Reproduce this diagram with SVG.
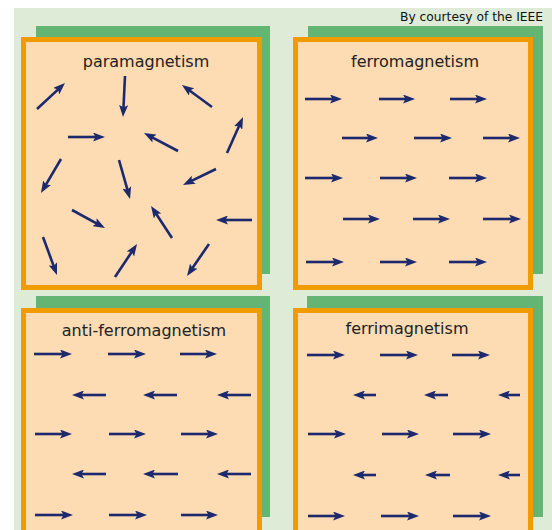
<svg xmlns="http://www.w3.org/2000/svg" width="552" height="530" viewBox="0 0 552 530">
<style>
.bg{fill:#ddebd7}
.shadow{fill:#64b573}
.frame{fill:#fddbb3;stroke:#f09c00;stroke-width:5}
.title{font-family:"DejaVu Sans",sans-serif;font-size:16px;fill:#222;text-anchor:middle}
.credit{font-family:"DejaVu Sans",sans-serif;font-size:13px;fill:#111}
.arr{stroke:#1c2a6d;stroke-width:2.6;fill:none;marker-end:url(#head)}
</style>
<defs>
<marker id="head" markerUnits="userSpaceOnUse" viewBox="0 0 12 9" markerWidth="12" markerHeight="9" refX="6" refY="4.5" orient="auto">
<path d="M0,0 L12,4.5 L0,9 L2.5,4.5 z" fill="#1c2a6d"/>
</marker>
</defs>
<rect width="552" height="530" fill="#ffffff"/>
<rect class="bg" x="14" y="8" width="538" height="522"/>
<text class="credit" x="400" y="21" textLength="143" lengthAdjust="spacingAndGlyphs">By courtesy of the IEEE</text>

<g id="paramagnetism">
<rect class="shadow" x="36" y="26" width="234" height="248"/>
<rect class="frame" x="23.5" y="39.5" width="236" height="248"/>
<text class="title" x="146" y="67">paramagnetism</text>
<g class="arrows">
<line class="arr" x1="37" y1="109" x2="60.6" y2="87.1"/>
<line class="arr" x1="125" y1="76" x2="123.3" y2="111"/>
<line class="arr" x1="212" y1="107" x2="186.8" y2="88.5"/>
<line class="arr" x1="68" y1="137" x2="99" y2="137"/>
<line class="arr" x1="178" y1="151" x2="149.3" y2="135.8"/>
<line class="arr" x1="227" y1="153" x2="240.6" y2="122.5"/>
<line class="arr" x1="61" y1="159" x2="44" y2="187.8"/>
<line class="arr" x1="119" y1="160" x2="128.4" y2="193.2"/>
<line class="arr" x1="216" y1="169" x2="188.4" y2="182.4"/>
<line class="arr" x1="72" y1="210" x2="99.7" y2="225.1"/>
<line class="arr" x1="172" y1="238" x2="154.3" y2="211"/>
<line class="arr" x1="252" y1="220" x2="222" y2="220"/>
<line class="arr" x1="43" y1="237" x2="54.9" y2="269.4"/>
<line class="arr" x1="115" y1="277" x2="133.7" y2="249"/>
<line class="arr" x1="209" y1="244" x2="190.4" y2="271"/>
</g>
</g>

<g id="ferromagnetism">
<rect class="shadow" x="308" y="26" width="235" height="248"/>
<rect class="frame" x="295.5" y="39.5" width="235" height="248"/>
<text class="title" x="415" y="67">ferromagnetism</text>
<g class="arrows">
<line class="arr" x1="305" y1="99" x2="336" y2="99"/>
<line class="arr" x1="379" y1="99" x2="409" y2="99"/>
<line class="arr" x1="450" y1="99" x2="481" y2="99"/>
<line class="arr" x1="342" y1="138" x2="372" y2="138"/>
<line class="arr" x1="414" y1="138" x2="446" y2="138"/>
<line class="arr" x1="483" y1="138" x2="514" y2="138"/>
<line class="arr" x1="305" y1="178" x2="337" y2="178"/>
<line class="arr" x1="380" y1="178" x2="411" y2="178"/>
<line class="arr" x1="449" y1="178" x2="481" y2="178"/>
<line class="arr" x1="343" y1="219" x2="374" y2="219"/>
<line class="arr" x1="413" y1="219" x2="444" y2="219"/>
<line class="arr" x1="483" y1="219" x2="515" y2="219"/>
<line class="arr" x1="306" y1="262" x2="338" y2="262"/>
<line class="arr" x1="380" y1="262" x2="411" y2="262"/>
<line class="arr" x1="449" y1="262" x2="481" y2="262"/>
</g>
</g>

<g id="anti-ferromagnetism">
<rect class="shadow" x="36" y="296" width="234" height="221"/>
<rect class="frame" x="23.5" y="310.5" width="236" height="240"/>
<text class="title" x="144" y="336">anti-ferromagnetism</text>
<g class="arrows">
<line class="arr" x1="34" y1="354" x2="66" y2="354"/>
<line class="arr" x1="108" y1="354" x2="140" y2="354"/>
<line class="arr" x1="180" y1="354" x2="211" y2="354"/>
<line class="arr" x1="106" y1="395" x2="78" y2="395"/>
<line class="arr" x1="177" y1="395" x2="149" y2="395"/>
<line class="arr" x1="251" y1="395" x2="223" y2="395"/>
<line class="arr" x1="35" y1="434" x2="66" y2="434"/>
<line class="arr" x1="109" y1="434" x2="140" y2="434"/>
<line class="arr" x1="181" y1="434" x2="212" y2="434"/>
<line class="arr" x1="106" y1="474" x2="78" y2="474"/>
<line class="arr" x1="178" y1="474" x2="149" y2="474"/>
<line class="arr" x1="251" y1="474" x2="223" y2="474"/>
<line class="arr" x1="35" y1="515" x2="67" y2="515"/>
<line class="arr" x1="109" y1="515" x2="141" y2="515"/>
<line class="arr" x1="181" y1="515" x2="212" y2="515"/>
</g>
</g>

<g id="ferrimagnetism">
<rect class="shadow" x="307" y="296" width="236" height="221"/>
<rect class="frame" x="295.5" y="310.5" width="235" height="240"/>
<text class="title" x="407" y="334">ferrimagnetism</text>
<g class="arrows">
<line class="arr" x1="307" y1="355" x2="339" y2="355"/>
<line class="arr" x1="380" y1="355" x2="412" y2="355"/>
<line class="arr" x1="452" y1="355" x2="484" y2="355"/>
<line class="arr" x1="376" y1="395" x2="359" y2="395"/>
<line class="arr" x1="448" y1="395" x2="430" y2="395"/>
<line class="arr" x1="520" y1="395" x2="504" y2="395"/>
<line class="arr" x1="308" y1="434" x2="340" y2="434"/>
<line class="arr" x1="382" y1="434" x2="413" y2="434"/>
<line class="arr" x1="453" y1="434" x2="485" y2="434"/>
<line class="arr" x1="376" y1="475" x2="359" y2="475"/>
<line class="arr" x1="450" y1="475" x2="431" y2="475"/>
<line class="arr" x1="520" y1="475" x2="504" y2="475"/>
<line class="arr" x1="308" y1="516" x2="339" y2="516"/>
<line class="arr" x1="381" y1="516" x2="413" y2="516"/>
<line class="arr" x1="453" y1="516" x2="485" y2="516"/>
</g>
</g>
</svg>
